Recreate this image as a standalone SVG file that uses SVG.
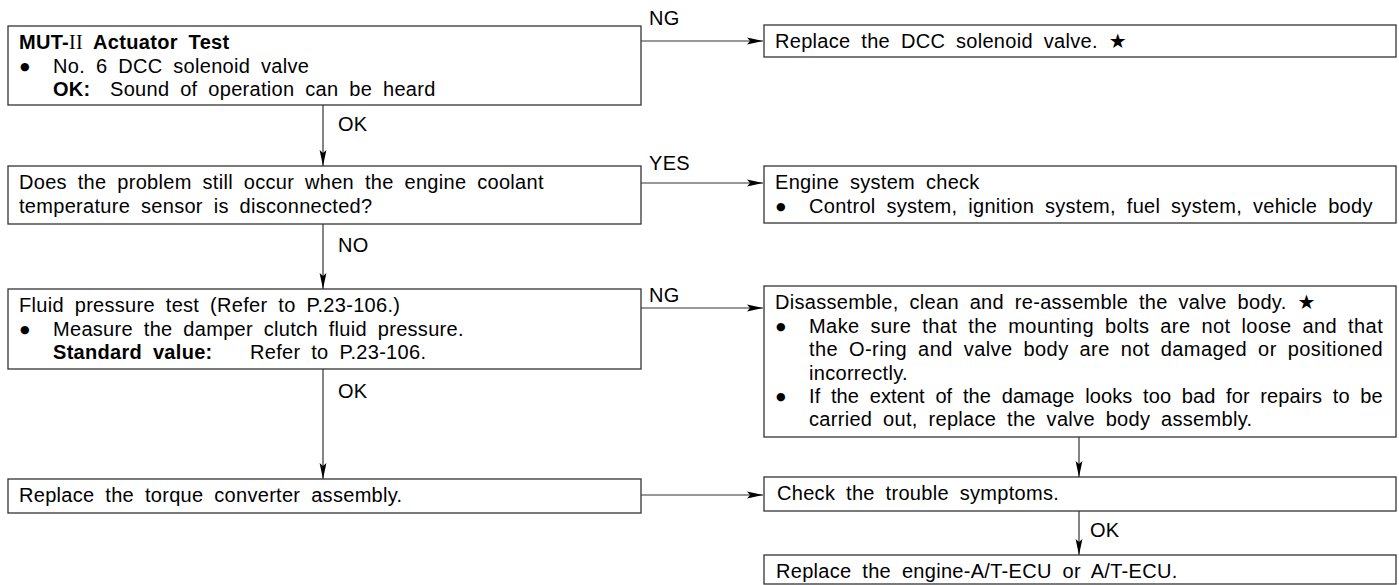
<svg xmlns="http://www.w3.org/2000/svg" width="1399" height="585" viewBox="0 0 1399 585">
<style>
.t{font-family:"Liberation Sans",Arial,sans-serif;font-size:20px;word-spacing:5px;letter-spacing:0.3px;fill:#000}
.b{font-weight:bold}
.rn{font-family:"Liberation Serif","Times New Roman",serif;font-weight:normal}
.bu{font-family:"DejaVu Sans",sans-serif;font-size:11px;word-spacing:0;letter-spacing:0}
.st{font-family:"DejaVu Sans",sans-serif;font-size:20px}
.box{fill:#fff;stroke:#333;stroke-width:1.3}
.ln{fill:none;stroke:#333;stroke-width:1.2}
</style>
<defs>
<marker id="ah" markerUnits="userSpaceOnUse" markerWidth="16" markerHeight="8" refX="16" refY="4" orient="auto">
<path d="M0,0.6 L16,4 L0,7.4 L3,4 z" fill="#000"/>
</marker>
</defs>
<g id="connectors">
<path class="ln" d="M641,41 H763" marker-end="url(#ah)"/>
<path class="ln" d="M323,105 V166" marker-end="url(#ah)"/>
<path class="ln" d="M641,183 H763" marker-end="url(#ah)"/>
<path class="ln" d="M323,224 V289" marker-end="url(#ah)"/>
<path class="ln" d="M641,308 H763" marker-end="url(#ah)"/>
<path class="ln" d="M323,369 V479" marker-end="url(#ah)"/>
<path class="ln" d="M641,495 H763" marker-end="url(#ah)"/>
<path class="ln" d="M1079,437 V477" marker-end="url(#ah)"/>
<path class="ln" d="M1079,511 V555" marker-end="url(#ah)"/>
<text class="t" x="649" y="25">NG</text>
<text class="t" x="338" y="131">OK</text>
<text class="t" x="649" y="170">YES</text>
<text class="t" x="338" y="252">NO</text>
<text class="t" x="649" y="302">NG</text>
<text class="t" x="338" y="398">OK</text>
<text class="t" x="1090" y="537">OK</text>
</g>
<g id="actuator-test">
<rect class="box" x="8" y="26" width="633" height="79"/>
<text class="t b" x="19" y="49">MUT-<tspan class="rn">II</tspan> Actuator Test</text>
<text class="bu" x="20" y="70">●</text>
<text class="t" x="53" y="72.5">No. 6 DCC solenoid valve</text>
<text class="t" y="96"><tspan class="b" x="53">OK:</tspan><tspan x="110">Sound of operation can be heard</tspan></text>
</g>
<g id="replace-dcc">
<rect class="box" x="764" y="25" width="632" height="32"/>
<text class="t" x="775" y="48">Replace the DCC solenoid valve. <tspan class="st">★</tspan></text>
</g>
<g id="coolant-question">
<rect class="box" x="8" y="166" width="633" height="58"/>
<text class="t" x="19" y="189">Does the problem still occur when the engine coolant</text>
<text class="t" x="19" y="212.5">temperature sensor is disconnected?</text>
</g>
<g id="engine-check">
<rect class="box" x="764" y="166" width="632" height="57"/>
<text class="t" x="775" y="189">Engine system check</text>
<text class="bu" x="776" y="210">●</text>
<text class="t" x="809" y="212.5">Control system, ignition system, fuel system, vehicle body</text>
</g>
<g id="fluid-pressure">
<rect class="box" x="8" y="289" width="633" height="80"/>
<text class="t" x="19" y="312">Fluid pressure test (Refer to P.23-106.)</text>
<text class="bu" x="20" y="333">●</text>
<text class="t" x="53" y="335.5">Measure the damper clutch fluid pressure.</text>
<text class="t" y="359"><tspan class="b" x="53">Standard value:</tspan><tspan x="250">Refer to P.23-106.</tspan></text>
</g>
<g id="valve-body">
<rect class="box" x="764" y="286" width="632" height="151"/>
<text class="t" x="775" y="309">Disassemble, clean and re-assemble the valve body. <tspan class="st">★</tspan></text>
<text class="bu" x="776" y="330">●</text>
<text class="t" x="809" y="332.5" textLength="574" lengthAdjust="spacing">Make sure that the mounting bolts are not loose and that</text>
<text class="t" x="809" y="356" textLength="574" lengthAdjust="spacing">the O-ring and valve body are not damaged or positioned</text>
<text class="t" x="809" y="379.5">incorrectly.</text>
<text class="bu" x="776" y="400">●</text>
<text class="t" x="809" y="402.5" textLength="574" lengthAdjust="spacing">If the extent of the damage looks too bad for repairs to be</text>
<text class="t" x="809" y="426">carried out, replace the valve body assembly.</text>
</g>
<g id="torque-converter">
<rect class="box" x="8" y="479" width="633" height="34"/>
<text class="t" x="19" y="502">Replace the torque converter assembly.</text>
</g>
<g id="check-symptoms">
<rect class="box" x="764" y="477" width="632" height="34"/>
<text class="t" x="777" y="500">Check the trouble symptoms.</text>
</g>
<g id="replace-ecu">
<rect class="box" x="764" y="555" width="632" height="29"/>
<text class="t" x="776" y="578">Replace the engine-A/T-ECU or A/T-ECU.</text>
</g>
</svg>
